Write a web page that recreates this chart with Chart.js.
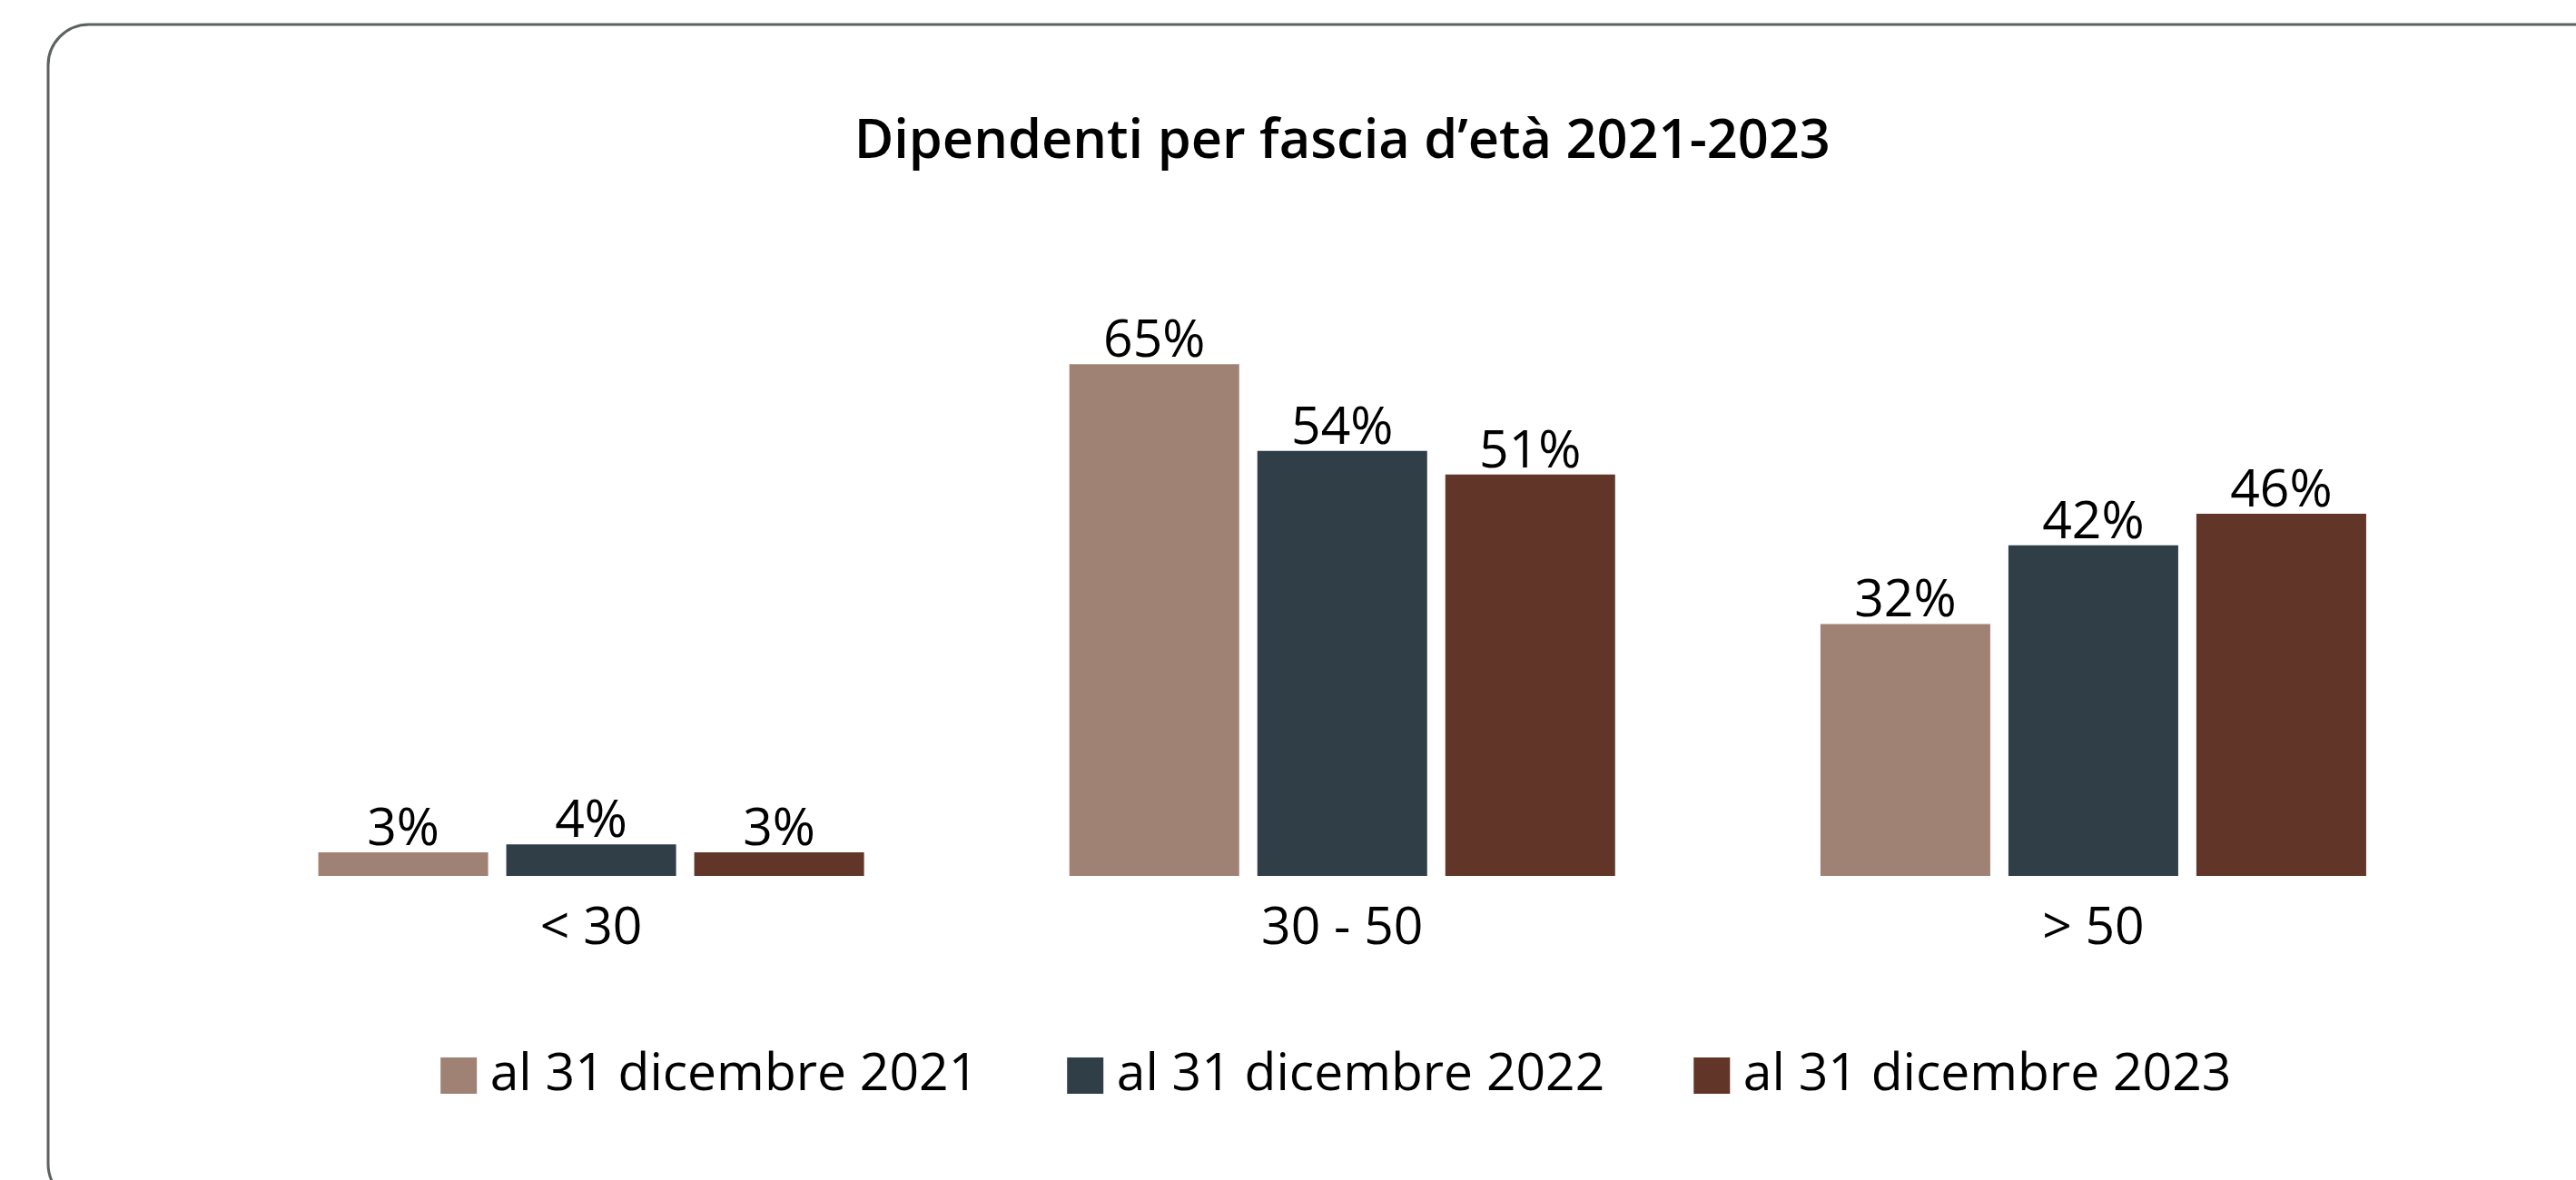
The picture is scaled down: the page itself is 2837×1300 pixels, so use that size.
<!DOCTYPE html>
<html>
<head>
<meta charset="utf-8">
<script src="https://cdn.jsdelivr.net/npm/chart.js@4.4.1/dist/chart.umd.min.js"></script>
<style>
  html, body { margin: 0; padding: 0; background: #fff; }
  #wrap { width: 2837px; height: 1300px; }
</style>
</head>
<body>
<div id="wrap"><canvas id="ageChart" width="2837" height="1300"></canvas></div>
<script>
const categories = ["< 30", "30 - 50", "> 50"];
const seriesLabels = ["al 31 dicembre 2021", "al 31 dicembre 2022", "al 31 dicembre 2023"];
const values2021 = [3, 65, 32];
const values2022 = [4, 54, 42];
const values2023 = [3, 51, 46];
const seriesColors = ["#a08275", "#2f3e47", "#623529"];

const FONT = "'Open Sans', Lato, sans-serif";

// rounded frame around the whole chart, cut by the right and bottom edges
const framePlugin = {
  id: "frame",
  beforeDraw(chart) {
    const ctx = chart.ctx;
    ctx.save();
    ctx.fillStyle = "#fff";
    ctx.fillRect(0, 0, chart.width, chart.height);
    ctx.strokeStyle = "#5c6161";
    ctx.lineWidth = 3;
    ctx.beginPath();
    ctx.roundRect(53, 27, chart.width, chart.height, 45);
    ctx.stroke();
    ctx.restore();
  }
};

// percentages above the bars
const valueLabels = {
  id: "valueLabels",
  afterDatasetsDraw(chart) {
    const ctx = chart.ctx;
    ctx.save();
    ctx.font = "400 57px " + FONT;
    ctx.fillStyle = "#000";
    ctx.textAlign = "center";
    ctx.textBaseline = "alphabetic";
    chart.data.datasets.forEach((ds, i) => {
      chart.getDatasetMeta(i).data.forEach((bar, j) => {
        ctx.fillText(ds.data[j] + "%", bar.x, bar.y - 8);
      });
    });
    ctx.restore();
  }
};

function dataset(i, values) {
  return {
    label: seriesLabels[i],
    data: values,
    backgroundColor: seriesColors[i],
    borderWidth: 0,
    categoryPercentage: 0.7508,
    barPercentage: 0.9034
  };
}

function draw() {
  new Chart(document.getElementById("ageChart").getContext("2d"), {
    type: "bar",
    data: {
      labels: categories,
      datasets: [dataset(0, values2021), dataset(1, values2022), dataset(2, values2023)]
    },
    options: {
      responsive: false,
      maintainAspectRatio: false,
      animation: false,
      layout: { padding: { left: 237.5, right: 118, top: 0, bottom: 76.5 } },
      plugins: {
        title: {
          display: true,
          text: "Dipendenti per fascia d’età 2021-2023",
          color: "#000",
          font: { family: FONT, size: 59.5, weight: 600, lineHeight: 1.2 },
          padding: { top: 121, bottom: 165.5 }
        },
        legend: {
          position: "bottom",
          labels: {
            color: "#000",
            font: { family: FONT, size: 57 },
            usePointStyle: true,
            pointStyle: "rect",
            boxWidth: 12,
            boxHeight: 40,
            padding: 112
          }
        },
        tooltip: { enabled: false }
      },
      scales: {
        x: {
          grid: { display: false, drawTicks: false },
          border: { display: false },
          ticks: { color: "#000", font: { family: FONT, size: 57 }, padding: 25 },
          afterFit(scale) { scale.height = 79.5; }
        },
        y: { display: false, min: 0, max: 70 }
      }
    },
    plugins: [framePlugin, valueLabels]
  });
}

Promise.all([
  document.fonts.load("57px 'Open Sans'"),
  document.fonts.load("600 59.5px 'Open Sans'")
]).then(draw, draw);
</script>
</body>
</html>
